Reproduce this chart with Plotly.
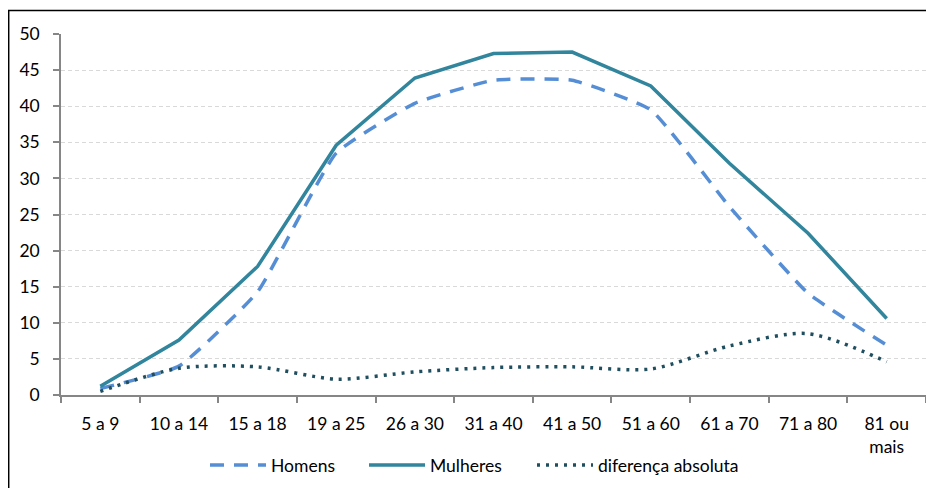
import plotly.graph_objects as go

categories = ["5 a 9", "10 a 14", "15 a 18", "19 a 25", "26 a 30", "31 a 40",
              "41 a 50", "51 a 60", "61 a 70", "71 a 80", "81 ou<br>mais"]
homens = [0.9, 4.0, 14.3, 33.5, 40.4, 43.6, 43.6, 39.5, 26.1, 14.1, 6.9]
mulheres = [1.2, 7.6, 17.8, 34.6, 43.9, 47.3, 47.5, 42.8, 32.1, 22.4, 10.6]
diferenca = [0.5, 3.7, 3.9, 2.2, 3.2, 3.8, 3.9, 3.6, 6.8, 8.5, 4.6]
y_ticks = [0, 5, 10, 15, 20, 25, 30, 35, 40, 45, 50]

# page body has an 8px margin: figure starts at (8, 8) in the window
OFF = 8
W, H = 934 - OFF, 488 - OFF
L, T = 61 - OFF, 34 - OFF
R = W - (926 - OFF)
B = H - (395 - OFF)
pw, ph = W - L - R, H - T - B

def px_x(x):
    return (x - OFF - L) / pw

def px_y(y):
    return (H - B - (y - OFF)) / ph

font = dict(family="Lato, Carlito, sans-serif", size=17.5, color="#000000")

fig = go.Figure()
fig.add_trace(go.Scatter(
    x=categories, y=homens, name="Homens", mode="lines", legend="legend",
    line=dict(color="#558ED5", width=3.5, dash="14px,10px", shape="spline", smoothing=0.4)))
fig.add_trace(go.Scatter(
    x=categories, y=mulheres, name="Mulheres", mode="lines", legend="legend2",
    line=dict(color="#31859C", width=3.5)))
fig.add_trace(go.Scatter(
    x=categories, y=diferenca, name="diferença absoluta", mode="lines", legend="legend3",
    line=dict(color="#1F4E5F", width=3.5, dash="3px,6px", shape="spline", smoothing=0.8)))

def leg(xpx):
    return dict(orientation="h", x=px_x(xpx), xanchor="left",
                y=px_y(465), yanchor="middle", font=font,
                bgcolor="rgba(0,0,0,0)", itemwidth=56)

fig.update_layout(
    width=W, height=H,
    margin=dict(l=L, r=R, t=T, b=B, autoexpand=False),
    paper_bgcolor="white", plot_bgcolor="white",
    font=font,
    showlegend=True,
    legend=leg(205),
    legend2=leg(364),
    legend3=leg(532),
    xaxis=dict(type="category", showline=True, linecolor="#868686", linewidth=1.5,
               ticks="outside", tickson="boundaries", ticklen=6, tickcolor="#868686",
               tickwidth=1.5, showgrid=False, tickfont=font, range=[-0.5, 10.5],
               automargin=False, ticklabelstandoff=12),
    yaxis=dict(range=[0, 50], tickvals=y_ticks, showline=True, linecolor="#868686",
               linewidth=1.5, ticks="outside", ticklen=6, tickcolor="#868686", tickwidth=1.5,
               showgrid=True, gridcolor="#D9D9D9", griddash="4px,3px", gridwidth=1,
               zeroline=False, tickfont=font, automargin=False, ticklabelstandoff=10),
    shapes=[dict(type="rect", xref="paper", yref="paper",
                 x0=px_x(8.7), x1=px_x(960), y0=px_y(520), y1=px_y(10.5),
                 line=dict(color="#000000", width=1.5), fillcolor="rgba(0,0,0,0)",
                 layer="below")],
)

fig.write_html("out.html")
